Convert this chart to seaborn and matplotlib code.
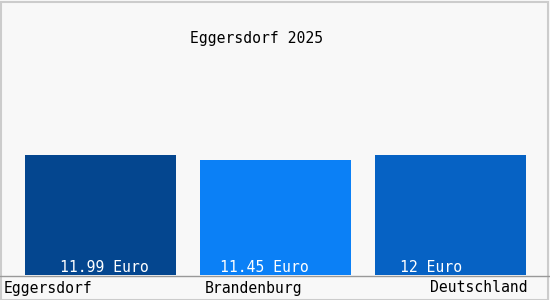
import matplotlib
matplotlib.use("Agg")
import matplotlib.pyplot as plt
from matplotlib.lines import Line2D
from matplotlib.patches import Rectangle
import seaborn as sns
import pandas as pd

categories = ["Eggersdorf", "Brandenburg", "Deutschland"]
values = [11.99, 11.45, 12.0]
value_labels = ["11.99 Euro", "11.45 Euro", "12 Euro"]
title = "Eggersdorf 2025"
colors = ["#04468f", "#0b80f6", "#0662c4"]

W, H = 550, 300
sns.set_style("white")
plt.rcParams["font.family"] = ["DejaVu Sans Mono", "DejaVu Sans"]
FS = 10.6

fig = plt.figure(figsize=(W / 100, H / 100), dpi=100, facecolor="#f8f8f8")
ax = fig.add_axes([13 / W, 25 / H, 525 / W, 130 / H])
ax.set_facecolor("#f8f8f8")

df = pd.DataFrame({"cat": categories, "val": values})
sns.barplot(data=df, x="cat", y="val", hue="cat", palette=colors, legend=False,
            width=151 / 175, saturation=1, linewidth=0, edgecolor="none", ax=ax)
ax.set_xlim(-0.5, 2.5)
ax.set_ylim(0, 13)
ax.axis("off")

def px(x, y):
    return x / W, 1 - y / H

# value labels inside bars
for lbl, x0 in zip(value_labels, [60, 220, 400]):
    fig.text(*px(x0, 272.5), lbl, color="white", fontsize=FS, ha="left", va="baseline")

# category labels
fig.text(*px(4, 292.5), categories[0], fontsize=FS, ha="left", va="baseline", color="black")
fig.text(*px(253.5, 292.5), categories[1], fontsize=FS, ha="center", va="baseline", color="black")
fig.text(*px(528, 292.5), categories[2], fontsize=FS, ha="right", va="baseline", color="black")

# title
fig.text(*px(256.5, 42.5), title, fontsize=FS, ha="center", va="baseline", color="black")

# baseline
fig.add_artist(Line2D([0, 1], [1 - 275.5 / H] * 2, color="#999999", lw=1.0,
                      transform=fig.transFigure))
# border
fig.add_artist(Rectangle((0.5 / W, 0.5 / H), 1 - 2.5 / W, 1 - 2 / H, fill=False,
                         edgecolor="#cccccc", lw=1.5, transform=fig.transFigure))

fig.savefig("out.png", dpi=100, facecolor=fig.get_facecolor())
